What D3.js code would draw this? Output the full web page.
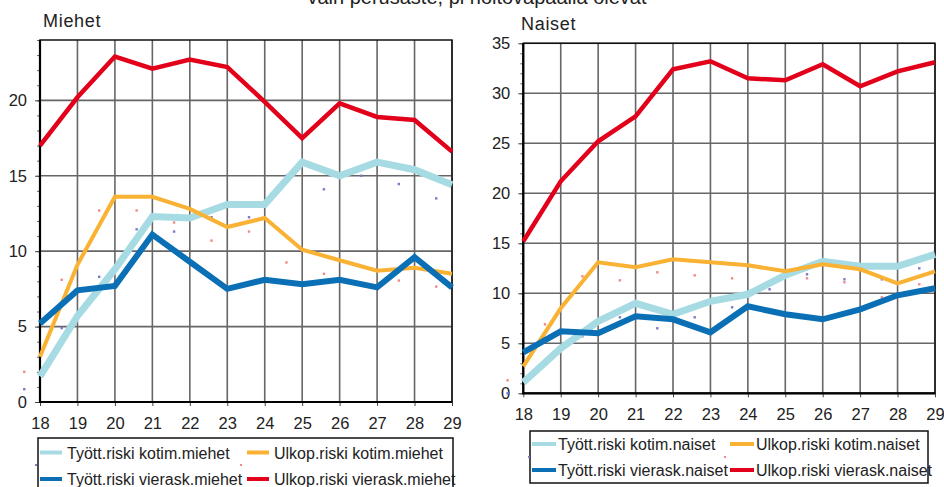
<!DOCTYPE html>
<html>
  <head>
    <meta charset="utf-8" />
    <title>Työttömyys- ja ulkopuolisuusriski</title>
    <script src="https://d3js.org/d3.v7.min.js"></script>
    <style>
        body {
            margin: 0;
            background: #fff;
        }
        text {
            font-family: "Liberation Sans", Arial, sans-serif;
            fill: #222;
        }
    </style>
  </head>
  <body>
    <svg id="chart"></svg>

    <script>
        var width = 944;
        var height = 487;

        // ika (x-akseli)
        var ages = [18, 19, 20, 21, 22, 23, 24, 25, 26, 27, 28, 29];

        // Miehet
        var miehetTyottKotim   = [1.7, 5.7, 8.8, 12.3, 12.2, 13.1, 13.1, 15.9, 15.0, 15.9, 15.4, 14.4];
        var miehetUlkopKotim   = [3.0, 9.1, 13.6, 13.6, 12.8, 11.6, 12.2, 10.1, 9.4, 8.7, 8.9, 8.5];
        var miehetTyottVierask = [5.2, 7.4, 7.7, 11.1, 9.3, 7.5, 8.1, 7.8, 8.1, 7.6, 9.6, 7.6];
        var miehetUlkopVierask = [17.0, 20.2, 22.9, 22.1, 22.7, 22.2, 19.9, 17.5, 19.8, 18.9, 18.7, 16.6];
        var miehetPisteetSin   = [0.85, 4.9, 8.3, 11.45, 11.3, 12.25, 12.25, 15.0, 14.1, 15.0, 14.45, 13.5];
        var miehetPisteetPun   = [2.0, 8.1, 12.7, 12.7, 11.9, 10.7, 11.3, 9.25, 8.5, 7.9, 8.05, 7.65];

        // Naiset
        var naisetTyottKotim   = [1.1, 4.5, 7.2, 9.0, 7.9, 9.2, 9.9, 11.8, 13.2, 12.7, 12.7, 13.9];
        var naisetUlkopKotim   = [2.7, 8.5, 13.1, 12.6, 13.4, 13.1, 12.8, 12.2, 12.9, 12.4, 11.0, 12.2];
        var naisetTyottVierask = [4.1, 6.2, 6.0, 7.7, 7.4, 6.1, 8.7, 7.9, 7.4, 8.4, 9.8, 10.5];
        var naisetUlkopVierask = [15.2, 21.2, 25.2, 27.7, 32.4, 33.2, 31.5, 31.3, 32.9, 30.7, 32.2, 33.1];
        var naisetPisteetSin   = [0.0, 3.2, 5.7, 7.6, 6.5, 7.6, 8.6, 10.4, 11.9, 11.4, 11.4, 12.5];
        var naisetPisteetPun   = [1.3, 6.9, 11.7, 11.3, 12.1, 11.8, 11.5, 10.8, 11.5, 11.1, 9.6, 10.9];

        var miehetYTicks = [0, 5, 10, 15, 20];
        var naisetYTicks = [0, 5, 10, 15, 20, 25, 30, 35];

        var miehetNames = ["Tyött.riski kotim.miehet", "Ulkop.riski kotim.miehet",
                           "Tyött.riski vierask.miehet", "Ulkop.riski vierask.miehet"];
        var naisetNames = ["Tyött.riski kotim.naiset", "Ulkop.riski kotim.naiset",
                           "Tyött.riski vierask.naiset", "Ulkop.riski vierask.naiset"];

        var colors = ["#a6dbe3", "#f9b233", "#0a6fb4", "#e2001a"];
        var widths = [7, 4, 6, 4.5];
        var dotColors = ["#7a7ac8", "#f08a8a"];

        var svg = d3.select("#chart")
            .attr("width", width)
            .attr("height", height);

        // top title, clipped by the window edge
        svg.append("text")
            .attr("x", 477)
            .attr("y", 4)
            .attr("text-anchor", "middle")
            .style("font-size", "20px")
            .text("vain perusaste, pl hoitovapaalla olevat");

        function drawPanel(p) {
            var g = svg.append("g");

            var x = d3.scaleLinear()
                .domain([ages[0], ages[ages.length - 1]])
                .range([p.left, p.right]);
            var y = d3.scaleLinear()
                .domain([0, p.yMax])
                .range([p.bottom, p.top]);

            // title
            g.append("text")
                .attr("x", p.titleX)
                .attr("y", p.titleY)
                .style("font-size", "18px")
                .style("letter-spacing", "0.7px")
                .text(p.title);

            // grid
            g.append("g")
                .selectAll("line.v")
                .data(ages)
                .enter().append("line")
                .attr("x1", function(d) { return x(d); })
                .attr("x2", function(d) { return x(d); })
                .attr("y1", p.top)
                .attr("y2", p.bottom)
                .attr("stroke", "#666")
                .attr("stroke-width", 1.6);

            g.append("g")
                .selectAll("line.h")
                .data(p.yTicks)
                .enter().append("line")
                .attr("x1", p.left)
                .attr("x2", p.right)
                .attr("y1", function(d) { return y(d); })
                .attr("y2", function(d) { return y(d); })
                .attr("stroke", "#666")
                .attr("stroke-width", 1.6);

            // minor ticks
            var minor = d3.range(0, p.yMax + 1, 1);
            var yMinor = d3.axisLeft(y).tickValues(minor).tickSize(3).tickFormat("");
            g.append("g")
                .attr("transform", "translate(" + p.left + ",0)")
                .call(yMinor)
                .call(function(s) {
                    s.select(".domain").remove();
                    s.selectAll("line").attr("stroke", "#666");
                });

            // y axis labels
            var yAxis = d3.axisLeft(y).tickValues(p.yTicks).tickSize(5).tickPadding(8);
            g.append("g")
                .attr("transform", "translate(" + p.left + ",0)")
                .call(yAxis)
                .call(function(s) {
                    s.select(".domain").remove();
                    s.selectAll("line").attr("stroke", "#444");
                    s.selectAll("text")
                        .style("font-size", "16.5px")
                        .style("font-family", "'Liberation Sans', Arial, sans-serif")
                        .attr("fill", "#222");
                });

            // x axis
            var xAxis = d3.axisBottom(x).tickValues(ages).tickSize(4).tickPadding(11);
            g.append("g")
                .attr("transform", "translate(0," + p.bottom + ")")
                .call(xAxis)
                .call(function(s) {
                    s.select(".domain").remove();
                    s.selectAll("line").attr("stroke", "#444");
                    s.selectAll("text")
                        .style("font-size", "16.5px")
                        .style("font-family", "'Liberation Sans', Arial, sans-serif")
                        .attr("fill", "#222");
                });

            // frame
            g.append("rect")
                .attr("x", p.left)
                .attr("y", p.top)
                .attr("width", p.right - p.left)
                .attr("height", p.bottom - p.top)
                .attr("fill", "none")
                .attr("stroke", "#111")
                .attr("stroke-width", 1.5);
            g.append("path")
                .attr("d", "M" + p.left + "," + p.top + "V" + p.bottom + "H" + p.right)
                .attr("fill", "none")
                .attr("stroke", "#000")
                .attr("stroke-width", 2.2);

            // small dots
            p.dots.forEach(function(vals, k) {
                g.append("g")
                    .selectAll("rect")
                    .data(vals)
                    .enter().append("rect")
                    .attr("x", function(d, i) { return x(ages[i] - 0.42) - 1.2; })
                    .attr("y", function(d) { return y(d) - 1.2; })
                    .attr("width", 2.4)
                    .attr("height", 2.4)
                    .attr("fill", dotColors[k]);
            });

            // lines
            var line = d3.line()
                .x(function(d, i) { return x(ages[i]); })
                .y(function(d) { return y(d); });

            p.series.forEach(function(vals, k) {
                g.append("path")
                    .datum(vals)
                    .attr("d", line)
                    .attr("fill", "none")
                    .attr("stroke", colors[k])
                    .attr("stroke-width", widths[k])
                    .attr("stroke-linejoin", "miter");
            });

            // legend
            var lg = p.legend;
            g.append("rect")
                .attr("x", lg.x)
                .attr("y", lg.y)
                .attr("width", lg.w)
                .attr("height", lg.h)
                .attr("fill", "#fff")
                .attr("stroke", "#111")
                .attr("stroke-width", 1.5);

            p.names.forEach(function(name, k) {
                var col = k % 2;
                var row = Math.floor(k / 2);
                var sx = lg.colX[col];
                var sy = lg.rowY[row];
                g.append("line")
                    .attr("x1", sx)
                    .attr("x2", sx + lg.sw)
                    .attr("y1", sy)
                    .attr("y2", sy)
                    .attr("stroke", colors[k])
                    .attr("stroke-width", 4);
                g.append("text")
                    .attr("x", sx + lg.sw + lg.gap)
                    .attr("y", sy + 6)
                    .style("font-size", "16px")
                    .text(name);
            });

            // unnamed dot entries in legend
            lg.dotPos.forEach(function(pos, k) {
                g.append("rect")
                    .attr("x", pos[0] - 1)
                    .attr("y", pos[1] - 1)
                    .attr("width", 2)
                    .attr("height", 2)
                    .attr("fill", dotColors[k]);
            });
        }

        drawPanel({
            title: "Miehet", titleX: 43, titleY: 27,
            left: 40, right: 452, top: 40, bottom: 402,
            yMax: 24, yTicks: miehetYTicks,
            series: [miehetTyottKotim, miehetUlkopKotim, miehetTyottVierask, miehetUlkopVierask],
            dots: [miehetPisteetSin, miehetPisteetPun],
            names: miehetNames,
            legend: { x: 38, y: 438, w: 415, h: 60, colX: [40, 247], rowY: [452.5, 479],
                      sw: 22, gap: 5, dotPos: [[36, 465], [241, 465]] }
        });

        drawPanel({
            title: "Naiset", titleX: 521, titleY: 30,
            left: 523.3, right: 935, top: 43.3, bottom: 393.3,
            yMax: 35, yTicks: naisetYTicks,
            series: [naisetTyottKotim, naisetUlkopKotim, naisetTyottVierask, naisetUlkopVierask],
            dots: [naisetPisteetSin, naisetPisteetPun],
            names: naisetNames,
            legend: { x: 530, y: 431, w: 398, h: 52, colX: [532, 730], rowY: [444, 470],
                      sw: 24, gap: 2, dotPos: [[529, 457], [725, 457]] }
        });
    </script>
  </body>
</html>
